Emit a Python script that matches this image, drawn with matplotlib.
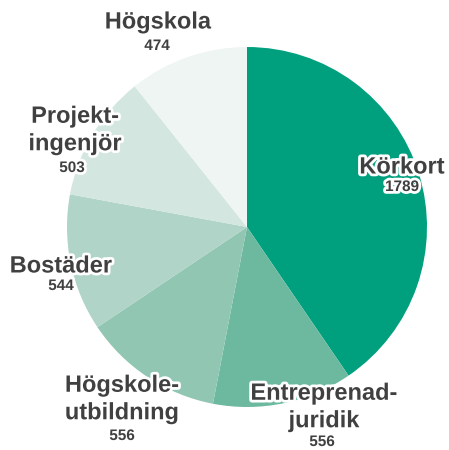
import matplotlib.pyplot as plt
import matplotlib.patheffects as pe

categories = ['Körkort', 'Entreprenad-\njuridik', 'Högskole-\nutbildning',
              'Bostäder', 'Projekt-\ningenjör', 'Högskola']
values = [1789, 556, 556, 544, 503, 474]
colors = ['#00a07e', '#6db9a0', '#91c6b3', '#b0d4c7', '#d3e6df', '#eef5f2']
# label anchor positions in pixels (x, y from top) for name and number
name_pos = [(402, 167), (324, 407), (122, 399), (61, 266), (75, 130), (158, 22)]
num_pos = [(402, 187), (322, 442), (122, 436), (61, 286), (72, 168), (157, 46)]


def main():
    plt.rcParams['font.family'] = ['Liberation Sans', 'DejaVu Sans']
    fig = plt.figure(figsize=(4.49, 4.5), dpi=100)
    ax = fig.add_axes([0, 0, 1, 1])

    # y axis is inverted below, so startangle=-90 points up on screen and
    # counterclock=True runs clockwise on screen
    ax.pie(values, colors=colors, startangle=-90, counterclock=True,
           center=(247, 227), radius=180, wedgeprops=dict(linewidth=0))
    ax.set_xlim(0, 449)
    ax.set_ylim(450, 0)
    ax.set_aspect('equal')
    ax.axis('off')

    stroke = [pe.withStroke(linewidth=4, foreground='white')]
    for cat, val, (nx, ny), (vx, vy) in zip(categories, values, name_pos, num_pos):
        ax.text(nx, ny, cat, ha='center', va='center', fontsize=17,
                fontweight='bold', color='#404040', linespacing=1.25,
                path_effects=stroke)
        ax.text(vx, vy, str(val), ha='center', va='center', fontsize=11,
                fontweight='bold', color='#404040', path_effects=stroke)

    fig.savefig('out.png', dpi=100)


if __name__ == '__main__':
    main()
